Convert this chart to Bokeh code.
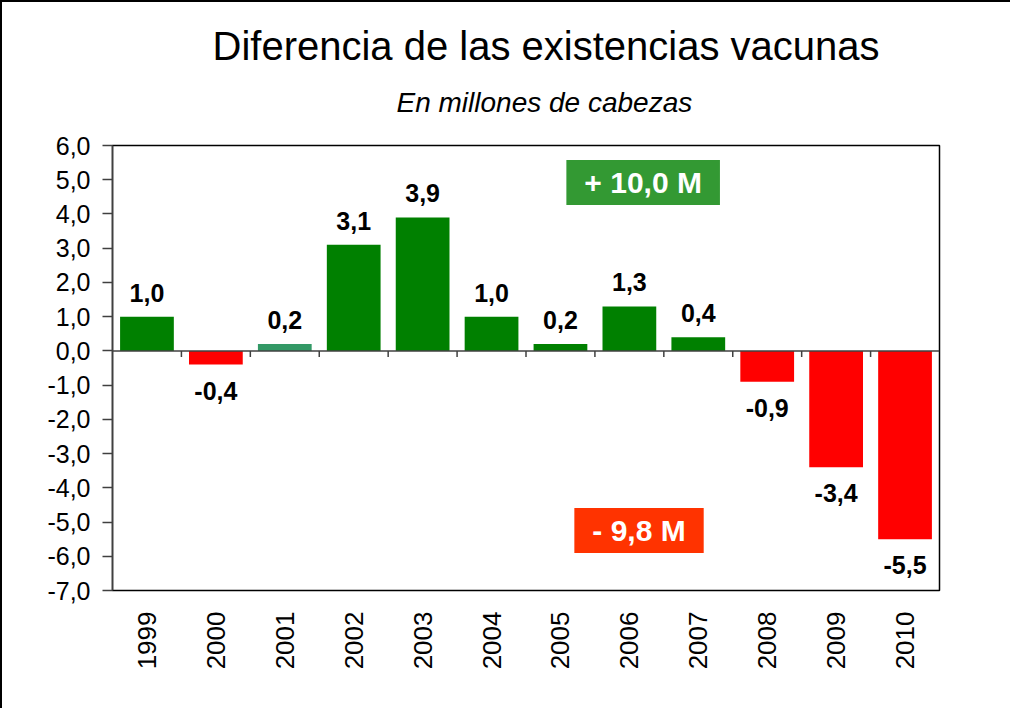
import math
from bokeh.plotting import figure
from bokeh.models import (Range1d, FixedTicker, Title, Span, LabelSet, Label,
                          ColumnDataSource)
from bokeh.core.properties import value
from bokeh.embed import file_html
from bokeh.resources import INLINE

# ---- data ----
years = ["1999", "2000", "2001", "2002", "2003", "2004", "2005", "2006",
         "2007", "2008", "2009", "2010"]
values = [1.0, -0.4, 0.2, 3.1, 3.9, 1.0, 0.2, 1.3, 0.4, -0.9, -3.4, -5.5]
y_ticks = [-7, -6, -5, -4, -3, -2, -1, 0, 1, 2, 3, 4, 5, 6]
total_gain = "+ 10,0 M"
total_loss = "- 9,8 M"

GREEN = "#008000"
RED = "#FF0000"
TEAL = "#339966"

def fmt(v):
    return f"{v:.1f}".replace(".", ",")

xs = list(range(1, len(years) + 1))
colors = [GREEN if v >= 0 else RED for v in values]
colors[years.index("2001")] = TEAL

FONT = "Liberation Sans"

p = figure(width=1010, height=708, output_backend="svg", toolbar_location=None,
           x_range=Range1d(0.5, len(years) + 0.5),
           y_range=Range1d(min(y_ticks), max(y_ticks)),
           min_border_left=110, min_border_right=73, min_border_top=143,
           min_border_bottom=120, title=None)
p.styles = {"border-left": "2px solid black", "border-top": "2px solid black"}

p.xgrid.visible = False
p.ygrid.visible = False
p.outline_line_color = "black"
p.outline_line_width = 1.5
p.background_fill_color = "white"
p.border_fill_color = "white"

# titles
sub = Title(text="En millones de cabezas", align="left", text_font=FONT,
            text_font_size="28px", text_font_style="italic",
            text_color="black", standoff=55, offset=284)
p.add_layout(sub, "above")
main = Title(text="Diferencia de las existencias vacunas", align="left",
             text_font=FONT, text_font_size="40px", text_font_style="normal",
             text_color="black", standoff=-20, offset=100)
p.add_layout(main, "above")

# y axis
yax = p.yaxis[0]
yax.ticker = FixedTicker(ticks=y_ticks)
yax.major_label_overrides = {t: fmt(t) for t in y_ticks}
yax.major_label_text_font = FONT
yax.major_label_text_font_size = "25px"
yax.major_label_text_color = "black"
yax.axis_line_color = "#404040"
yax.axis_line_width = 1.5
yax.major_tick_line_color = "#404040"
yax.major_tick_line_width = 1.5
yax.major_tick_out = 10
yax.major_tick_in = 0
yax.minor_tick_line_color = None
yax.major_label_standoff = 12

# x axis
xax = p.xaxis[0]
xax.ticker = FixedTicker(ticks=xs)
xax.major_label_overrides = {x: y for x, y in zip(xs, years)}
xax.major_label_orientation = math.pi / 2
xax.major_label_text_font = FONT
xax.major_label_text_font_size = "26px"
xax.major_label_text_color = "black"
xax.axis_line_color = None
xax.major_tick_line_color = None
xax.minor_tick_line_color = None
xax.major_label_standoff = 15

# bars
src = ColumnDataSource(dict(x=xs, top=values, color=colors))
p.vbar(x="x", top="top", bottom=0, width=0.78, fill_color="color",
       line_color=None, source=src)

# zero line and category ticks on it
p.add_layout(Span(location=0, dimension="width", line_color="#404040",
                  line_width=1.5))
bounds = [x + 0.5 for x in xs[:-1]]
p.segment(x0=bounds, x1=bounds, y0=[0] * len(bounds),
          y1=[-0.18] * len(bounds), line_color="#404040", line_width=1.5)

# value labels
pos = [(x, v) for x, v in zip(xs, values) if v >= 0]
neg = [(x, v) for x, v in zip(xs, values) if v < 0]
pos_src = ColumnDataSource(dict(x=[a for a, _ in pos], y=[b for _, b in pos],
                                t=[fmt(b) for _, b in pos]))
neg_src = ColumnDataSource(dict(x=[a for a, _ in neg], y=[b for _, b in neg],
                                t=[fmt(b) for _, b in neg]))
p.add_layout(LabelSet(x="x", y="y", text="t", source=pos_src, y_offset=15,
                      text_align="center", text_baseline="alphabetic",
                      text_font=value(FONT), text_font_size="25px",
                      text_font_style="bold", text_color="black"))
p.add_layout(LabelSet(x="x", y="y", text="t", source=neg_src, y_offset=-17,
                      text_align="center", text_baseline="top",
                      text_font=value(FONT), text_font_size="25px",
                      text_font_style="bold", text_color="black"))

# total boxes
p.add_layout(Label(x=8.2, y=4.92, text=total_gain, text_align="center",
                   text_baseline="middle", text_font=FONT,
                   text_font_size="30px", text_font_style="bold",
                   text_color="white", background_fill_color="#339933",
                   padding=(18, 6)))
p.add_layout(Label(x=8.14, y=-5.25, text=total_loss, text_align="center",
                   text_baseline="middle", text_font=FONT,
                   text_font_size="30px", text_font_style="bold",
                   text_color="white", background_fill_color="#FF3300",
                   padding=(18, 6)))

open("out.html", "w").write(file_html(p, INLINE))
